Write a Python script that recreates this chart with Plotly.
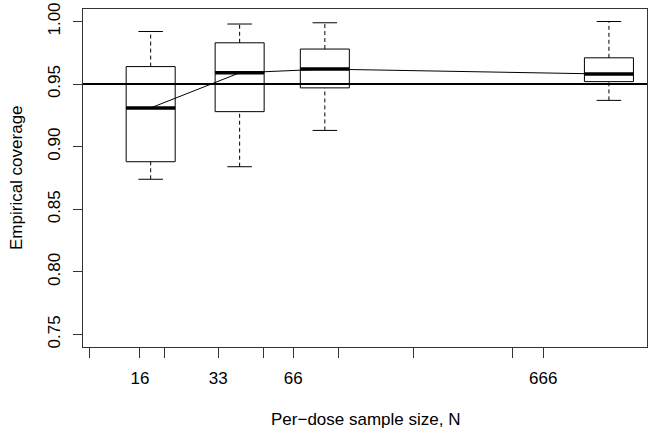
import numpy as np
import plotly.graph_objects as go

# ---- data ----
sample_sizes = [16, 33, 66, 666]
whisker_low = [0.874, 0.884, 0.913, 0.937]
q1 = [0.888, 0.928, 0.947, 0.952]
median = [0.931, 0.959, 0.962, 0.958]
q3 = [0.964, 0.983, 0.978, 0.971]
whisker_high = [0.992, 0.998, 0.999, 1.000]
target_coverage = 0.95

tick_N = [10, 16, 20, 33, 50, 66, 100, 200, 500, 666]
tick_labels = ["", "16", "", "33", "", "66", "", "", "", "666"]
y_ticks = [0.75, 0.80, 0.85, 0.90, 0.95, 1.00]

# ---- geometry / style ----
half_w = 0.0866          # half box width in log10 units
cap_half = half_w / 2
FONT = "Liberation Sans, Arial, Helvetica, sans-serif"
FS = 17

xpos = np.log10(sample_sizes)
# axis ticks in the original are drawn on a slightly compressed log scale
tick_x = np.log10(16) - 0.0378 + 0.88 * (np.log10(tick_N) - np.log10(16))

def seg_lists(pairs):
    xs, ys = [], []
    for (x0, y0, x1, y1) in pairs:
        xs += [x0, x1, None]
        ys += [y0, y1, None]
    return xs, ys

fig = go.Figure()

# reference line
fig.add_trace(go.Scatter(x=[0.9, 3.1], y=[target_coverage, target_coverage], mode="lines",
                         line=dict(color="black", width=2), showlegend=False, hoverinfo="skip"))

# median connecting line
fig.add_trace(go.Scatter(x=xpos, y=median, mode="lines",
                         line=dict(color="black", width=1), showlegend=False, hoverinfo="skip"))

# box rectangles
bx, by = [], []
for x, a, b in zip(xpos, q1, q3):
    bx += [x - half_w, x + half_w, x + half_w, x - half_w, x - half_w, None]
    by += [a, a, b, b, a, None]
fig.add_trace(go.Scatter(x=bx, y=by, mode="lines", line=dict(color="black", width=1),
                         showlegend=False, hoverinfo="skip"))

# whiskers (dashed)
wx, wy = seg_lists([(x, lo, x, a) for x, lo, a in zip(xpos, whisker_low, q1)] +
                   [(x, b, x, hi) for x, b, hi in zip(xpos, q3, whisker_high)])
fig.add_trace(go.Scatter(x=wx, y=wy, mode="lines", line=dict(color="black", width=1, dash="4px,3px"),
                         showlegend=False, hoverinfo="skip"))

# caps
cx, cy = seg_lists([(x - cap_half, lo, x + cap_half, lo) for x, lo in zip(xpos, whisker_low)] +
                   [(x - cap_half, hi, x + cap_half, hi) for x, hi in zip(xpos, whisker_high)])
fig.add_trace(go.Scatter(x=cx, y=cy, mode="lines", line=dict(color="black", width=1),
                         showlegend=False, hoverinfo="skip"))

# medians
mx, my = seg_lists([(x - half_w, m, x + half_w, m) for x, m in zip(xpos, median)])
fig.add_trace(go.Scatter(x=mx, y=my, mode="lines", line=dict(color="black", width=3.5),
                         showlegend=False, hoverinfo="skip"))

fig.update_layout(
    template="none",
    width=654, height=436,
    margin=dict(l=83, r=7, t=9, b=89, autoexpand=False),
    paper_bgcolor="white", plot_bgcolor="white",
    font=dict(family=FONT, size=FS, color="black"),
    xaxis=dict(range=[0.965, 2.958], showgrid=False, zeroline=False, automargin=False,
               showline=True, mirror=True, linecolor="#333", linewidth=1,
               tickmode="array", tickvals=tick_x, ticktext=tick_labels,
               ticks="outside", ticklen=10, tickcolor="#333", tickwidth=1,
               ticklabelstandoff=6, tickfont=dict(size=FS)),
    yaxis=dict(range=[0.74, 1.01], showgrid=False, zeroline=False, automargin=False,
               showline=True, mirror=True, linecolor="#333", linewidth=1,
               tickmode="array", tickvals=y_ticks,
               ticktext=[f"{v:.2f}" for v in y_ticks],
               ticks="outside", ticklen=9, tickcolor="#333", tickwidth=1,
               tickangle=-90, ticklabelstandoff=6, tickfont=dict(size=FS)),
    annotations=[
        dict(text="Per\u2212dose sample size, N", xref="paper", yref="paper",
             x=0.5, y=-73 / 338, xanchor="center", yanchor="middle",
             showarrow=False, font=dict(size=FS)),
        dict(text="Empirical coverage", xref="paper", yref="paper",
             x=(16 - 83) / 564, y=0.5, xanchor="center", yanchor="middle",
             textangle=-90, showarrow=False, font=dict(size=FS)),
    ],
)

fig.write_html("out.html", config={"displayModeBar": False},
               post_script="document.body.style.margin='0px';document.body.style.overflow='hidden';")
